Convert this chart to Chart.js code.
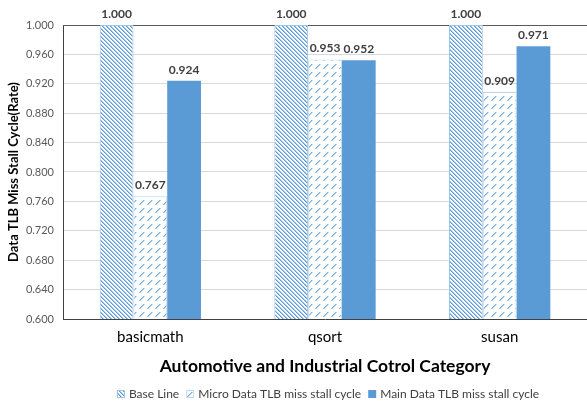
<!DOCTYPE html>
<html>
<head>
<meta charset="utf-8">
<script src="https://cdn.jsdelivr.net/npm/chart.js@4/dist/chart.umd.min.js"></script>
<style>
  html, body { margin: 0; padding: 0; background: #ffffff; }
  #wrap { width: 587px; height: 402px; position: relative; }
</style>
</head>
<body>
<div id="wrap"><canvas id="chart" width="587" height="402"></canvas></div>
<script>
// Benchmarks and normalised stall-cycle rates
const categories = ['basicmath', 'qsort', 'susan'];
const baseLine = [1.000, 1.000, 1.000];
const microTlb = [0.767, 0.953, 0.909];
const mainTlb = [0.924, 0.952, 0.971];
const seriesNames = ['Base Line', 'Micro Data TLB miss stall cycle', 'Main Data TLB miss stall cycle'];
const yTicks = [0.600, 0.640, 0.680, 0.720, 0.760, 0.800, 0.840, 0.880, 0.920, 0.960, 1.000];

const BLUE = '#5b9bd5';
const FONT = "Lato, 'Open Sans', sans-serif";

// Dense downward-diagonal hatch
function denseHatch() {
  const c = document.createElement('canvas');
  c.width = 4; c.height = 4;
  const g = c.getContext('2d');
  g.fillStyle = '#ffffff';
  g.fillRect(0, 0, 4, 4);
  for (let i = 0; i < 4; i++) {
    g.fillStyle = BLUE;
    g.fillRect(i, i, 1, 1);
    g.fillStyle = '#a7c8ea';
    g.fillRect((i + 1) % 4, i, 1, 1);
  }
  return g.createPattern(c, 'repeat');
}

// Wide upward-diagonal dashed hatch
function dashedHatch() {
  const c = document.createElement('canvas');
  c.width = 8; c.height = 8;
  const g = c.getContext('2d');
  g.fillStyle = '#ffffff';
  g.fillRect(0, 0, 8, 8);
  g.fillStyle = '#7fb1e0';
  [[7, 0], [6, 1], [5, 2], [4, 3], [3, 4]].forEach(([x, y]) => g.fillRect(x, y, 1, 1));
  g.fillStyle = '#b9d4ef';
  [[0, 0], [7, 1], [6, 2], [5, 3], [4, 4]].forEach(([x, y]) => g.fillRect(x, y, 1, 1));
  return g.createPattern(c, 'repeat');
}

const valueLabels = {
  id: 'valueLabels',
  afterDatasetsDraw(chart) {
    const ctx = chart.ctx;
    ctx.save();
    ctx.font = "bold 12px " + FONT;
    ctx.fillStyle = '#404040';
    ctx.textAlign = 'center';
    ctx.textBaseline = 'bottom';
    chart.data.datasets.forEach((ds, di) => {
      const meta = chart.getDatasetMeta(di);
      meta.data.forEach((bar, i) => {
        ctx.fillText(ds.data[i].toFixed(3), bar.x, bar.y - 5);
      });
    });
    ctx.restore();
  }
};

// Darker top frame line of the plot area
const topFrame = {
  id: 'topFrame',
  beforeDatasetsDraw(chart) {
    const { ctx, chartArea } = chart;
    ctx.save();
    ctx.strokeStyle = '#595959';
    ctx.lineWidth = 1;
    ctx.beginPath();
    ctx.moveTo(chartArea.left, Math.round(chartArea.top) + 0.5);
    ctx.lineTo(chartArea.right, Math.round(chartArea.top) + 0.5);
    ctx.stroke();
    ctx.restore();
  }
};

// Single-row legend under the axis title, swatches filled like the bars
const bottomLegend = {
  id: 'bottomLegend',
  afterDraw(chart) {
    const ctx = chart.ctx;
    const box = 8, gapText = 4, gapItem = 7, centerX = 328, y = 394;
    ctx.save();
    ctx.font = "12px " + FONT;
    ctx.textBaseline = 'middle';
    ctx.textAlign = 'left';
    const items = chart.data.datasets.map(ds => ({ ds, w: ctx.measureText(ds.label).width }));
    const total = items.reduce((s, it) => s + box + gapText + it.w, 0) + gapItem * (items.length - 1);
    let x = centerX - total / 2;
    items.forEach(it => {
      ctx.fillStyle = it.ds.backgroundColor;
      ctx.fillRect(x, y - box / 2, box, box);
      if (it.ds.borderWidth) {
        ctx.strokeStyle = it.ds.borderColor;
        ctx.lineWidth = 1;
        ctx.strokeRect(x + 0.5, y - box / 2 + 0.5, box - 1, box - 1);
      }
      x += box + gapText;
      ctx.fillStyle = '#404040';
      ctx.fillText(it.ds.label, x, y);
      x += it.w + gapItem;
    });
    ctx.restore();
  }
};

new Chart(document.getElementById('chart'), {
  type: 'bar',
  data: {
    labels: categories,
    datasets: [
      { label: seriesNames[0], data: baseLine, backgroundColor: denseHatch(), borderColor: '#9dc3e6', borderWidth: 1 },
      { label: seriesNames[1], data: microTlb, backgroundColor: dashedHatch(), borderColor: '#bdd7ee', borderWidth: 1 },
      { label: seriesNames[2], data: mainTlb, backgroundColor: BLUE, borderColor: BLUE, borderWidth: 0 }
    ]
  },
  options: {
    responsive: false,
    animation: false,
    layout: { padding: { top: 25, right: 0, left: 0, bottom: 25 } },
    datasets: { bar: { categoryPercentage: 0.58, barPercentage: 1.0 } },
    plugins: {
      legend: { display: false },
      tooltip: { enabled: false }
    },
    scales: {
      x: {
        grid: { display: false, drawTicks: false },
        border: { color: '#404040', width: 1 },
        ticks: { font: { family: FONT, size: 15, lineHeight: 1.0 }, color: '#000000', padding: 11 },
        title: {
          display: true,
          text: 'Automotive and Industrial Cotrol Category',
          font: { family: FONT, size: 17.5, weight: 'bold' },
          color: '#000000',
          padding: { top: 0, bottom: 0 }
        }
      },
      y: {
        min: 0.6,
        max: 1.0,
        afterBuildTicks(scale) { scale.ticks = yTicks.map(v => ({ value: v })); },
        afterFit(scale) { scale.width = 63; },
        grid: { color: '#d9d9d9', drawTicks: false },
        border: { color: '#404040', width: 1 },
        ticks: {
          font: { family: FONT, size: 11 },
          color: '#595959',
          padding: 9,
          callback: v => Number(v).toFixed(3)
        },
        title: {
          display: true,
          text: 'Data TLB Miss Stall Cycle(Rate)',
          font: { family: FONT, size: 13, weight: 'bold' },
          color: '#000000',
          padding: { top: 6, bottom: 0 }
        }
      }
    }
  },
  plugins: [valueLabels, topFrame, bottomLegend]
});
</script>
</body>
</html>
